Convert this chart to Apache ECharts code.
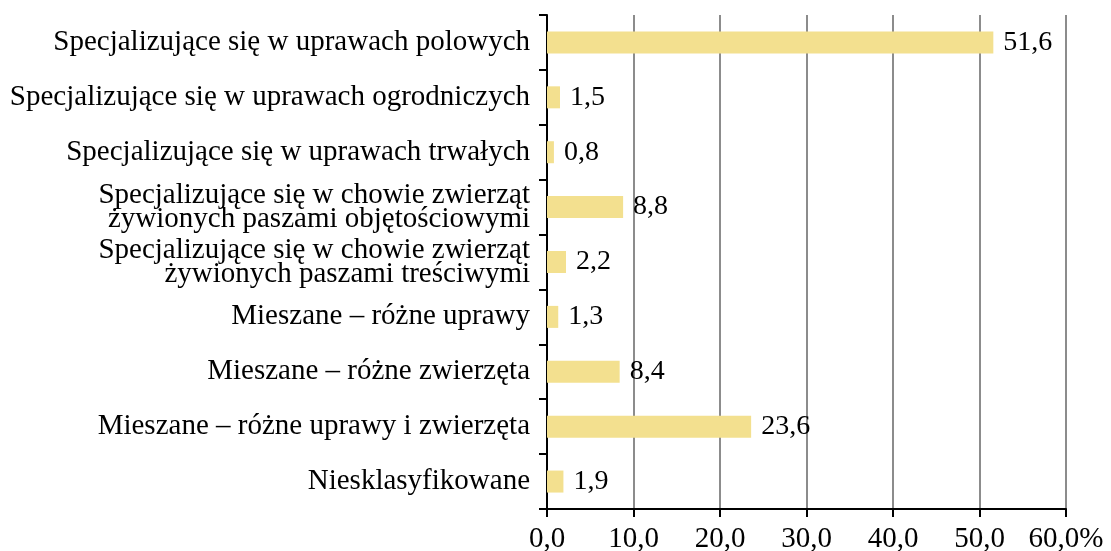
<!DOCTYPE html>
<html>
<head>
<meta charset="utf-8">
<script src="https://cdn.jsdelivr.net/npm/echarts@6/dist/echarts.min.js"></script>
<style>
html,body{margin:0;padding:0;background:#fff;}
#chart{width:1111px;height:551px;}
</style>
</head>
<body>
<div id="chart"></div>
<script>
var categories = [
    "Specjalizujące się w uprawach polowych",
    "Specjalizujące się w uprawach ogrodniczych",
    "Specjalizujące się w uprawach trwałych",
    "Specjalizujące się w chowie zwierząt\nżywionych paszami objętościowymi",
    "Specjalizujące się w chowie zwierząt\nżywionych paszami treściwymi",
    "Mieszane – różne uprawy",
    "Mieszane – różne zwierzęta",
    "Mieszane – różne uprawy i zwierzęta",
    "Niesklasyfikowane"
];
var values = [51.6, 1.5, 0.8, 8.8, 2.2, 1.3, 8.4, 23.6, 1.9];

function fmt(v) {
    return v.toFixed(1).replace(".", ",");
}

var font = "Liberation Serif";
var option = {
    animation: false,
    grid: {left: 547, right: 45, top: 15, bottom: 42, containLabel: false, outerBoundsMode: "none"},
    xAxis: {
        type: "value",
        min: 0,
        max: 60,
        interval: 10,
        axisLine: {show: true, lineStyle: {color: "#000", width: 2}},
        axisTick: {show: true, length: 8, lineStyle: {color: "#000", width: 2}},
        splitLine: {lineStyle: {color: "#8c8c8c", width: 2}},
        axisLabel: {
            color: "#000",
            fontFamily: font,
            fontSize: 29,
            margin: 16,
            formatter: function (v) {
                return fmt(v) + (v === 60 ? "%" : "");
            }
        }
    },
    yAxis: {
        type: "category",
        inverse: true,
        data: categories,
        axisLine: {lineStyle: {color: "#000", width: 2}},
        axisTick: {show: true, length: 8, lineStyle: {color: "#000", width: 2}},
        axisLabel: {
            color: "#000",
            fontFamily: font,
            fontSize: 29,
            lineHeight: 24,
            margin: 17,
            align: "right"
        }
    },
    series: [{
        type: "bar",
        data: values,
        barWidth: 22,
        itemStyle: {color: "#f3e08f"},
        label: {
            show: true,
            position: "right",
            distance: 10,
            color: "#000",
            fontFamily: font,
            fontSize: 28,
            formatter: function (p) { return fmt(p.value); }
        }
    }]
};
var myChart = echarts.init(document.getElementById("chart"));
myChart.setOption(option);
</script>
</body>
</html>
